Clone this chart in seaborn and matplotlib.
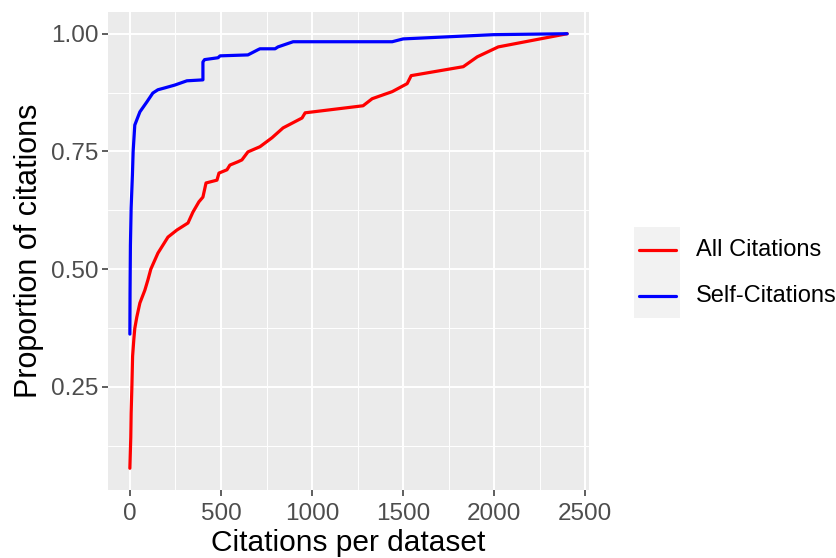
import matplotlib
matplotlib.use("Agg")
import matplotlib.pyplot as plt
from matplotlib.patches import Rectangle
from matplotlib.ticker import FixedLocator
import numpy as np
import pandas as pd
import seaborn as sns

# Cumulative proportion of citations against citations per dataset
all_x = [0, 5, 7, 11, 15, 22, 27, 38, 55, 70, 82, 99, 115, 154, 209, 258, 319,
         346, 379, 401, 418, 478, 489, 533, 549, 593, 615, 648, 714, 780, 841,
         945, 962, 1280, 1330, 1440, 1522, 1544, 1830, 1907, 2022, 2400]
all_y = [0.077, 0.143, 0.194, 0.249, 0.315, 0.352, 0.374, 0.398, 0.428, 0.443,
         0.455, 0.477, 0.500, 0.534, 0.568, 0.583, 0.598, 0.621, 0.643, 0.653,
         0.683, 0.689, 0.704, 0.711, 0.721, 0.728, 0.732, 0.749, 0.760, 0.779,
         0.800, 0.821, 0.832, 0.847, 0.862, 0.877, 0.894, 0.911, 0.930, 0.951,
         0.972, 1.000]

self_x = [0, 1, 3, 7, 14, 18, 27, 55, 93, 126, 154, 192, 247, 313, 401, 401,
          410, 484, 495, 648, 703, 714, 797, 813, 896, 1440, 1500, 1995, 2400]
self_y = [0.362, 0.450, 0.550, 0.630, 0.700, 0.750, 0.806, 0.834, 0.855, 0.874,
          0.881, 0.885, 0.891, 0.900, 0.902, 0.940, 0.945, 0.949, 0.953, 0.955,
          0.966, 0.968, 0.968, 0.972, 0.983, 0.983, 0.989, 0.998, 1.000]

series_names = ["All Citations", "Self-Citations"]
series_colors = ["#FF0000", "#0000FF"]

x_ticks = [0, 500, 1000, 1500, 2000, 2500]
x_minor = [250, 750, 1250, 1750, 2250]
y_ticks = [0.25, 0.50, 0.75, 1.00]
y_minor = [0.125, 0.375, 0.625, 0.875]

df = pd.concat([
    pd.DataFrame({"x": all_x, "y": all_y, "type": series_names[0]}),
    pd.DataFrame({"x": self_x, "y": self_y, "type": series_names[1]}),
], ignore_index=True)

sns.set_theme(style="darkgrid")
plt.rcParams["font.family"] = ["Liberation Sans", "DejaVu Sans"]

fig = plt.figure(figsize=(8.36, 5.58), dpi=100)
ax = fig.add_axes([108 / 836, 1 - 490 / 558, (589 - 108) / 836, (490 - 12) / 558])
ax.set_facecolor("#EBEBEB")

sns.lineplot(data=df, x="x", y="y", hue="type", units="type", estimator=None,
             sort=False, palette=dict(zip(series_names, series_colors)),
             linewidth=2.3, ax=ax, legend=False, zorder=3)

# axis limits with ggplot-style 5% expansion
xmin, xmax = 0, max(max(all_x), max(self_x))
ymin, ymax = min(min(all_y), min(self_y)), 1.0
xr, yr = xmax - xmin, ymax - ymin
ax.set_xlim(xmin - 0.05 * xr, xmax + 0.05 * xr)
ax.set_ylim(ymin - 0.05 * yr, ymax + 0.05 * yr)

ax.set_xticks(x_ticks)
ax.set_xticklabels([str(v) for v in x_ticks])
ax.set_yticks(y_ticks)
ax.set_yticklabels([f"{v:.2f}" for v in y_ticks])
ax.xaxis.set_minor_locator(FixedLocator(x_minor))
ax.yaxis.set_minor_locator(FixedLocator(y_minor))

ax.grid(which="major", color="white", linewidth=1.4)
ax.grid(which="minor", color="white", linewidth=0.7)
ax.set_axisbelow(True)
for s in ax.spines.values():
    s.set_visible(False)

ax.tick_params(axis="both", which="major", length=4, width=1.1, color="#333333",
               labelsize=17.5, labelcolor="#4D4D4D", pad=3,
               bottom=True, left=True)
ax.tick_params(axis="x", which="major", pad=5)
ax.tick_params(axis="both", which="minor", length=0)

ax.set_xlabel("Citations per dataset", fontsize=21.5, color="black", labelpad=3)
ax.set_ylabel("Proportion of citations", fontsize=22, color="black", labelpad=5)

# legend with grey key background
fig.patches.append(Rectangle((634 / 836, 1 - 318 / 558), 46 / 836, 91 / 558,
                             transform=fig.transFigure, facecolor="#F2F2F2",
                             edgecolor="none", zorder=0))
for name, color, ypx in zip(series_names, series_colors, [250, 296]):
    yf = 1 - ypx / 558
    fig.add_artist(plt.Line2D([639 / 836, 676 / 836], [yf, yf], color=color,
                              linewidth=2.3, transform=fig.transFigure))
    fig.text(696 / 836, yf, name, fontsize=17, color="black",
             va="center", ha="left")

fig.savefig("out.png", dpi=100, facecolor="white")
